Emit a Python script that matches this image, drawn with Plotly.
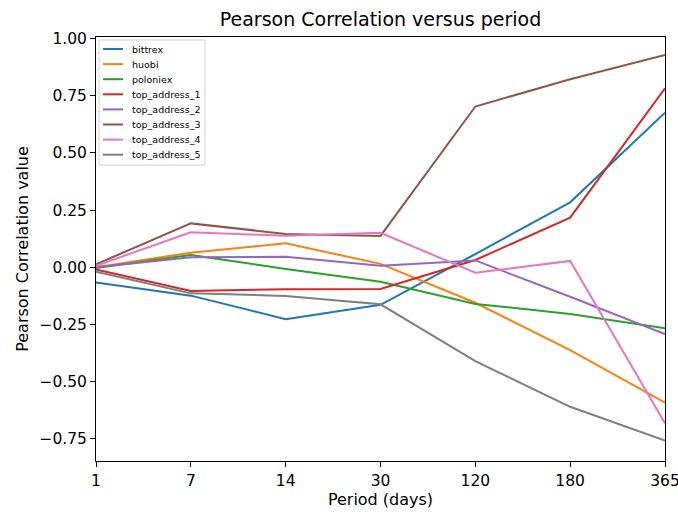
import plotly.graph_objects as go

periods = ["1", "7", "14", "30", "120", "180", "365"]
series_names = ["bittrex", "huobi", "poloniex", "top_address_1", "top_address_2",
                "top_address_3", "top_address_4", "top_address_5"]
bittrex = [-0.066, -0.124, -0.227, -0.164, 0.058, 0.284, 0.676]
huobi = [0.0, 0.064, 0.105, 0.015, -0.155, -0.362, -0.592]
poloniex = [-0.003, 0.054, -0.007, -0.063, -0.160, -0.204, -0.267]
top_address_1 = [-0.009, -0.104, -0.096, -0.095, 0.032, 0.217, 0.783]
top_address_2 = [0.0, 0.044, 0.046, 0.007, 0.030, -0.129, -0.292]
top_address_3 = [0.013, 0.192, 0.146, 0.137, 0.703, 0.822, 0.928]
top_address_4 = [0.007, 0.153, 0.138, 0.151, -0.024, 0.028, -0.682]
top_address_5 = [-0.019, -0.114, -0.125, -0.162, -0.410, -0.610, -0.758]
colors = ["#1f77b4", "#ff7f0e", "#2ca02c", "#d62728", "#9467bd", "#8c564b", "#e377c2", "#7f7f7f"]
y_ticks = [-0.75, -0.5, -0.25, 0.0, 0.25, 0.5, 0.75, 1.0]

all_series = [bittrex, huobi, poloniex, top_address_1, top_address_2,
              top_address_3, top_address_4, top_address_5]

W, H = 678, 512
ML, MR, MT, MB = 96, 13, 37, 51
PW, PH = W - ML - MR, H - MT - MB


def px_x(px):
    return (px - ML) / PW


def px_y(py):
    return (H - MB - py) / PH


x_pos = list(range(len(periods)))

fig = go.Figure()
for name, vals, c in zip(series_names, all_series, colors):
    fig.add_trace(go.Scatter(x=x_pos, y=vals, mode="lines", name=name,
                             line=dict(color=c, width=2), showlegend=False))

font_family = "DejaVu Sans"

# compact legend box (matplotlib-like spacing)
shapes = [dict(type="rect", xref="paper", yref="paper",
               x0=px_x(99), x1=px_x(205), y0=px_y(165), y1=px_y(40),
               line=dict(color="#d3d3d3", width=1), fillcolor="rgba(255,255,255,0.8)",
               layer="above")]
annotations = []
item_gap = 15.1
for i, (name, c) in enumerate(zip(series_names, colors)):
    yy = 49 + i * item_gap
    shapes.append(dict(type="line", xref="paper", yref="paper",
                       x0=px_x(103), x1=px_x(123), y0=px_y(yy), y1=px_y(yy),
                       line=dict(color=c, width=2), layer="above"))
    annotations.append(dict(text=name, xref="paper", yref="paper",
                            x=px_x(130), y=px_y(yy), xanchor="left", yanchor="middle",
                            showarrow=False, font=dict(size=9.5, family=font_family, color="black")))

fig.update_layout(
    width=W, height=H,
    margin=dict(l=ML, r=MR, t=MT, b=MB),
    paper_bgcolor="white", plot_bgcolor="white",
    font=dict(family=font_family, color="black", size=15),
    title=dict(text="Pearson Correlation versus period", x=(ML + PW / 2) / W,
               xanchor="center", y=1 - 19 / H, yanchor="middle",
               font=dict(size=19, family=font_family, color="black")),
    showlegend=False,
    shapes=shapes,
    annotations=annotations,
)
fig.update_xaxes(
    range=[0, 6], tickmode="array", tickvals=x_pos, ticktext=periods,
    showgrid=False, zeroline=False, showline=True, linecolor="black", linewidth=1,
    mirror=True, ticks="outside", ticklen=5, tickcolor="black", automargin=False,
    ticklabeloverflow="allow",
    title=dict(text="Period (days)", font=dict(size=16), standoff=4),
    tickfont=dict(size=15.5),
)
fig.update_yaxes(
    range=[-0.847, 1.007], tickmode="array", tickvals=y_ticks,
    ticktext=[("\u2212" if v < 0 else "") + f"{abs(v):.2f}" for v in y_ticks],
    showgrid=False, zeroline=False, showline=True, linecolor="black", linewidth=1,
    mirror=True, ticks="outside", ticklen=5, tickcolor="black", automargin=False,
    ticklabeloverflow="allow",
    title=dict(text="Pearson Correlation value", font=dict(size=16), standoff=6),
    tickfont=dict(size=15.5),
)

fig.write_html("out.html", config={"displayModeBar": False},
               post_script="document.body.style.margin='0px';document.body.style.padding='0px';")
